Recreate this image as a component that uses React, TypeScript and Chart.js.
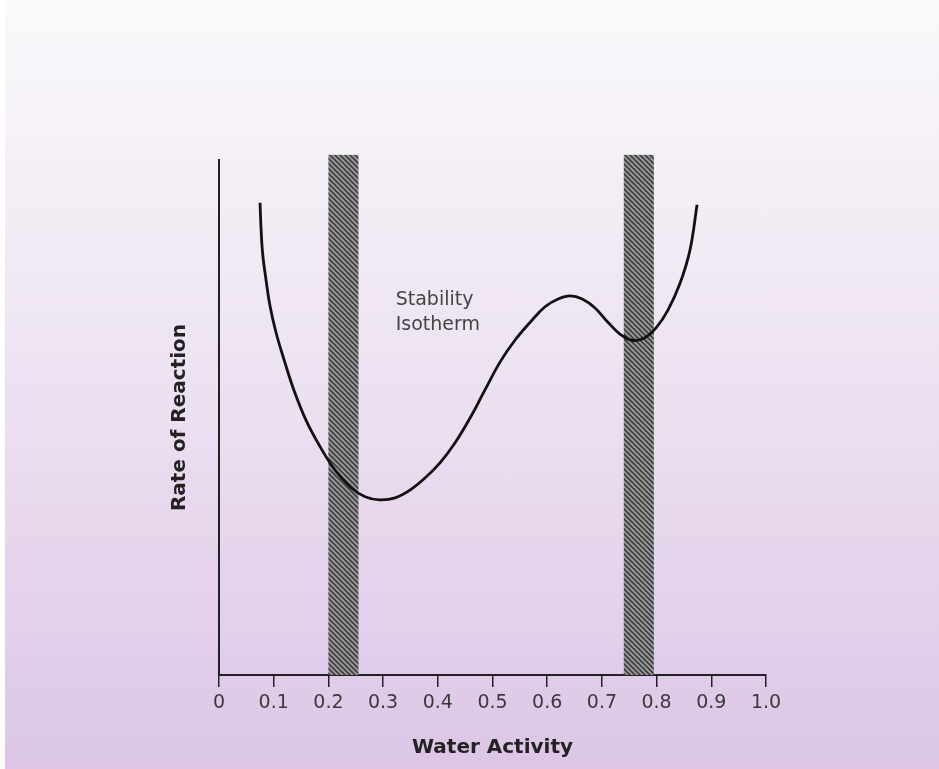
import React, { useEffect, useRef } from "react";
import { Chart, registerables } from "chart.js";

Chart.register(...registerables);

// Stability isotherm: water activity (x) vs relative rate of reaction (y)
const waterActivity = [0.075, 0.077, 0.080, 0.086, 0.093, 0.104, 0.119, 0.137, 0.159, 0.185, 0.212, 0.240, 0.267, 0.294, 0.322, 0.349, 0.377, 0.404, 0.431, 0.459, 0.486, 0.514, 0.541, 0.569, 0.596, 0.620, 0.642, 0.664, 0.687, 0.711, 0.733, 0.755, 0.777, 0.799, 0.821, 0.843, 0.861, 0.874];
const reactionRate = [91.7, 86.4, 81.6, 76.7, 71.8, 66.6, 61.2, 55.3, 49.5, 44.3, 39.8, 36.5, 34.6, 34.0, 34.4, 35.9, 38.3, 41.2, 45.0, 49.9, 55.3, 60.8, 65.0, 68.5, 71.5, 73.0, 73.6, 73.0, 71.3, 68.5, 66.2, 65.0, 65.4, 67.4, 70.9, 76.1, 82.5, 91.3];

// Hatched zones (water activity ranges)
const zoneStart = [0.2, 0.74];
const zoneEnd = [0.255, 0.795];
const zoneTop = 101;

const xTickValues = [0, 0.1, 0.2, 0.3, 0.4, 0.5, 0.6, 0.7, 0.8, 0.9, 1.0];
const xTickLabels = ["0", "0.1", "0.2", "0.3", "0.4", "0.5", "0.6", "0.7", "0.8", "0.9", "1.0"];

const noteLines = ["Stability", "Isotherm"];
const noteX = 0.323;
const noteY = 72.8;

const FONT = "'DejaVu Sans', Verdana, sans-serif";

function makeHatch(): CanvasPattern | string {
  const n = 5;
  const c = document.createElement("canvas");
  c.width = n;
  c.height = n;
  const g = c.getContext("2d");
  if (!g) return "#777";
  g.fillStyle = "#9c9c9c";
  g.fillRect(0, 0, n, n);
  g.strokeStyle = "#3c3c3c";
  g.lineWidth = 1.6;
  g.beginPath();
  g.moveTo(-1, -1);
  g.lineTo(n + 1, n + 1);
  g.moveTo(-1, n - 1);
  g.lineTo(1, n + 1);
  g.moveTo(n - 1, -1);
  g.lineTo(n + 1, 1);
  g.stroke();
  const p = g.createPattern(c, "repeat");
  return p || "#777";
}

const zonesPlugin = {
  id: "zones",
  beforeDatasetsDraw(chart: any) {
    const { ctx, scales } = chart;
    const xs = scales.x;
    const ys = scales.y;
    const hatch = makeHatch();
    ctx.save();
    for (let i = 0; i < zoneStart.length; i++) {
      const x0 = xs.getPixelForValue(zoneStart[i]);
      const x1 = xs.getPixelForValue(zoneEnd[i]);
      const y0 = ys.getPixelForValue(zoneTop);
      const y1 = ys.getPixelForValue(0);
      ctx.fillStyle = hatch;
      ctx.fillRect(x0, y0, x1 - x0, y1 - y0);
    }
    ctx.restore();
  },
  afterDatasetsDraw(chart: any) {
    const { ctx, scales } = chart;
    const x = scales.x.getPixelForValue(noteX);
    const y = scales.y.getPixelForValue(noteY);
    ctx.save();
    ctx.font = `19px ${FONT}`;
    ctx.fillStyle = "#444";
    ctx.textAlign = "left";
    ctx.textBaseline = "middle";
    noteLines.forEach((t, i) => ctx.fillText(t, x, y + i * 25));
    ctx.restore();
  },
};

export default function App() {
  const ref = useRef<HTMLCanvasElement | null>(null);

  useEffect(() => {
    document.body.style.margin = "0";
    if (!ref.current) return;
    const chart = new Chart(ref.current, {
      type: "line",
      data: {
        datasets: [
          {
            data: waterActivity.map((x, i) => ({ x, y: reactionRate[i] })),
            borderColor: "#111",
            borderWidth: 2.8,
            pointRadius: 0,
            tension: 0.4,
            fill: false,
          },
        ],
      },
      options: {
        animation: false,
        responsive: false,
        maintainAspectRatio: false,
        layout: { padding: { left: 0, top: 160, right: 173, bottom: 0 } },
        plugins: {
          legend: { display: false },
          tooltip: { enabled: false },
        },
        scales: {
          x: {
            type: "linear",
            min: 0,
            max: 1,
            afterBuildTicks: (scale: any) => {
              scale.ticks = xTickValues.map((v) => ({ value: v }));
            },
            afterFit: (scale: any) => {
              scale.height = 94;
            },
            ticks: {
              autoSkip: false,
              maxRotation: 0,
              padding: 5,
              color: "#3a3a3a",
              font: { family: FONT, size: 19 },
              callback: (_v: any, i: number) => xTickLabels[i],
            },
            grid: {
              drawOnChartArea: false,
              drawTicks: true,
              tickLength: 12,
              color: "#222",
              lineWidth: 1.5,
            },
            border: { display: true, color: "#222", width: 2 },
            title: {
              display: true,
              text: "Water Activity",
              color: "#222",
              font: { family: FONT, size: 20, weight: "bold" },
              padding: { top: 0, bottom: 9 },
            },
          },
          y: {
            type: "linear",
            min: 0,
            max: 100,
            afterFit: (scale: any) => {
              scale.width = 219;
            },
            ticks: { display: false },
            grid: { display: false, drawTicks: false },
            border: { display: true, color: "#222", width: 2 },
            title: {
              display: true,
              text: "Rate of Reaction",
              color: "#222",
              font: { family: FONT, size: 20, weight: "bold" },
              padding: { top: 168, bottom: 0 },
            },
          },
        },
      },
      plugins: [zonesPlugin],
    } as any);
    return () => chart.destroy();
  }, []);

  return (
    <div
      style={{
        width: 939,
        height: 769,
        background:
          "linear-gradient(to right, #ffffff 0px, #ffffff 5px, transparent 5px), linear-gradient(to bottom, #faf9fb 0%, #f4eff6 22%, #ebdff0 55%, #dcc5e6 100%)",
      }}
    >
      <canvas ref={ref} width={939} height={769} style={{ display: "block" }} />
    </div>
  );
}
